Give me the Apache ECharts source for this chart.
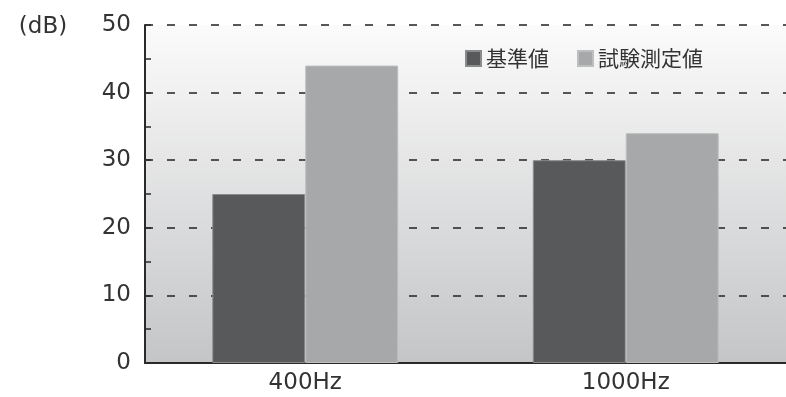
<!DOCTYPE html>
<html>
<head>
<meta charset="utf-8">
<script src="https://cdn.jsdelivr.net/npm/echarts@6/dist/echarts.min.js"></script>
<style>
  html, body { margin: 0; padding: 0; background: #fff; }
  #chart { width: 786px; height: 397px; }
</style>
</head>
<body>
<div id="chart"></div>
<script>
// data
const categories = ['400Hz', '1000Hz'];
const standardValues = [25, 30];     // 基準値
const measuredValues = [44, 34];     // 試験測定値
const yTicks = [0, 10, 20, 30, 40, 50];

const font = '"DejaVu Sans", "Noto Sans CJK JP", sans-serif';
const cjk = '"Noto Sans CJK JP", sans-serif';
const chart = echarts.init(document.getElementById('chart'));

const option = {
  animation: false,
  textStyle: { fontFamily: font },
  graphic: [{
    type: 'text',
    x: 43,
    y: 27,
    style: {
      text: '(dB)',
      font: '23px "DejaVu Sans", sans-serif',
      fill: '#333',
      align: 'center',
      verticalAlign: 'middle'
    }
  }],
  legend: {
    left: 465,
    top: 48,
    padding: 0,
    itemWidth: 15,
    itemHeight: 15,
    itemGap: 28,
    icon: 'rect',
    textStyle: { fontSize: 21, color: '#333', fontFamily: cjk },
    data: ['基準値', '試験測定値']
  },
  grid: {
    left: 145,
    top: 25,
    bottom: 34,
    right: -6,
    show: true,
    borderWidth: 0,
    backgroundColor: new echarts.graphic.LinearGradient(0, 0, 0, 1, [
      { offset: 0, color: '#fbfbfb' },
      { offset: 1, color: '#c4c5c7' }
    ])
  },
  xAxis: {
    type: 'category',
    data: categories,
    axisLine: { lineStyle: { color: '#2a2a2a', width: 2 } },
    axisTick: { inside: true, length: 8, lineStyle: { color: '#555', width: 1 } },
    axisLabel: { fontSize: 23, color: '#333', margin: 9, fontFamily: font }
  },
  yAxis: {
    type: 'value',
    min: 0,
    max: 50,
    interval: 10,
    axisLine: { show: true, lineStyle: { color: '#2a2a2a', width: 2 } },
    axisTick: { show: true, inside: true, length: 6, lineStyle: { color: '#2a2a2a', width: 1.5 } },
    minorTick: { show: true, splitNumber: 2, length: 6, lineStyle: { color: '#2a2a2a', width: 1.5 } },
    axisLabel: {
      fontSize: 23,
      color: '#333',
      margin: 14,
      fontFamily: font,
      formatter: v => yTicks.includes(v) ? String(v) : ''
    },
    splitLine: { show: true, lineStyle: { color: '#222', type: [8, 14], width: 1.5 } }
  },
  series: [
    {
      name: '基準値',
      type: 'bar',
      data: standardValues,
      barGap: '0%',
      barCategoryGap: '42%',
      itemStyle: { color: '#58595b', borderColor: '#8a8b8d', borderWidth: 1 }
    },
    {
      name: '試験測定値',
      type: 'bar',
      data: measuredValues,
      itemStyle: { color: '#a7a8aa', borderColor: '#bdbec0', borderWidth: 1 }
    }
  ]
};

chart.setOption(option);
window.addEventListener('resize', () => chart.resize(), false);
</script>
</body>
</html>
